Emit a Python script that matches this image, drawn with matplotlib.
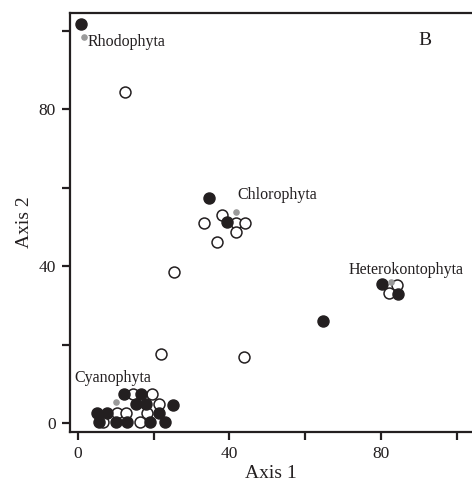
import matplotlib
matplotlib.use("Agg")
import matplotlib.pyplot as plt

plt.rcParams['font.family'] = ['Liberation Serif', 'DejaVu Serif']

INK = '#231f20'
GREY = '#9a9a9a'

# filled circles (axis 1, axis 2)
filled_x = [0.8, 34.6, 39.4, 64.6, 80.2, 84.4,
            12.1, 16.6, 15.3, 17.9, 25.1, 5.0, 7.7, 21.4, 5.5, 10.0, 12.9, 19.0, 23.0]
filled_y = [101.7, 57.3, 51.3, 26.0, 35.4, 32.9,
            7.4, 7.4, 4.8, 4.8, 4.6, 2.5, 2.5, 2.5, 0.3, 0.3, 0.3, 0.3, 0.3]

# open circles
open_x = [12.4, 33.2, 38.0, 41.8, 44.1, 41.7, 36.7, 25.3, 21.9, 43.8, 84.2, 82.1,
          14.5, 19.5, 21.4, 10.3, 12.7, 18.2, 6.6, 16.4]
open_y = [84.3, 51.1, 53.0, 51.0, 51.1, 48.7, 46.1, 38.5, 17.6, 16.8, 35.2, 33.1,
          7.4, 7.4, 4.8, 2.5, 2.5, 2.5, 0.3, 0.3]

# group centroids (grey)
groups = ['Rhodophyta', 'Chlorophyta', 'Heterokontophyta', 'Cyanophyta']
cent_x = [1.6, 41.8, 82.6, 10.0]
cent_y = [98.3, 53.8, 35.9, 5.4]

fig = plt.figure(figsize=(4.72, 4.86), dpi=100)
ax = fig.add_axes([0.148, 0.111, 0.852, 0.863])

ax.scatter(open_x, open_y, s=62, facecolors='white', edgecolors=INK, linewidths=1.1, zorder=3)
ax.scatter(filled_x, filled_y, s=62, facecolors=INK, edgecolors=INK, linewidths=1.1, zorder=4)
ax.scatter(cent_x, cent_y, s=14, color=GREY, zorder=5)

# group labels
ax.text(2.6, 97.1, groups[0], fontsize=11.5, color=INK, va='center', ha='left')
ax.text(42.0, 58.1, groups[1], fontsize=11.5, color=INK, va='center', ha='left')
ax.text(86.5, 39.0, groups[2], fontsize=11.5, color=INK, va='center', ha='center')
ax.text(-0.8, 11.5, groups[3], fontsize=11.5, color=INK, va='center', ha='left')
ax.text(91.6, 97.6, 'B', fontsize=14, color=INK, va='center', ha='center')

ax.set_xlim(-2.1, 104)
ax.set_ylim(-2.3, 104.6)
ax.set_xticks([0, 20, 40, 60, 80, 100])
ax.set_xticklabels(['0', '', '40', '', '80', ''])
ax.set_yticks([0, 20, 40, 60, 80, 100])
ax.set_yticklabels(['0', '', '40', '', '80', ''])
ax.tick_params(direction='out', length=6, width=1.6, colors=INK, labelsize=12.5, pad=4)

ax.spines['right'].set_visible(False)
for s in ['left', 'bottom', 'top']:
    ax.spines[s].set_linewidth(1.6)
    ax.spines[s].set_color(INK)

ax.set_xlabel('Axis 1', fontsize=14, color=INK, labelpad=2)
ax.set_ylabel('Axis 2', fontsize=14, color=INK, labelpad=4)

fig.savefig('out.png', dpi=100)
